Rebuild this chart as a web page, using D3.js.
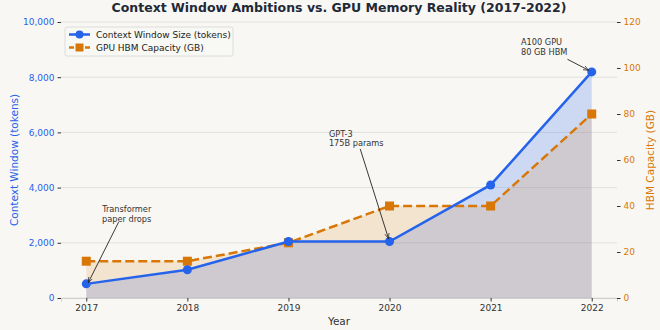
<!DOCTYPE html>
<html lang="en">
  <head>
    <meta charset="UTF-8" />
    <title>Context Window vs GPU Memory</title>
    <script src="https://cdn.jsdelivr.net/npm/d3@7"></script>
    <style>
      body {
        margin: 0;
        padding: 0;
        background: #f8f7f4;
        font-family: "DejaVu Sans", sans-serif;
      }
      .tick text {
        font-family: "DejaVu Sans", sans-serif;
      }
    </style>
  </head>
  <body>
    <svg id="chart"></svg>

    <script>
      // datos
      const years = [2017, 2018, 2019, 2020, 2021, 2022];
      const contextTokens = [512, 1024, 2048, 2048, 4096, 8192];
      const gpuMemoryGB = [16, 16, 24, 40, 40, 80];
      const leftTicks = [0, 2000, 4000, 6000, 8000, 10000];
      const rightTicks = [0, 20, 40, 60, 80, 100, 120];
      const notes = [
        { lines: ["Transformer", "paper drops"], tx: 2017.4, ty: 3100, anchor: "middle" },
        { lines: ["GPT-3", "175B params"], tx: 2019.4, ty: 5850, anchor: "start" },
        { lines: ["A100 GPU", "80 GB HBM"], tx: 2021.3, ty: 9150, anchor: "start" },
      ];

      const blue = "#2563eb";
      const orange = "#d97706";

      const width = 660;
      const height = 330;
      const m = { top: 22, right: 43, bottom: 32, left: 61 };

      const svg = d3.select("#chart").attr("width", width).attr("height", height);

      const x = d3
        .scaleLinear()
        .domain([2016.75, 2022.25])
        .range([m.left, width - m.right]);
      const yL = d3.scaleLinear().domain([0, 10000]).range([height - m.bottom, m.top]);
      const yR = d3.scaleLinear().domain([0, 120]).range([height - m.bottom, m.top]);

      // grid
      svg
        .append("g")
        .selectAll("line")
        .data(leftTicks)
        .enter()
        .append("line")
        .attr("x1", m.left)
        .attr("x2", width - m.right)
        .attr("y1", (d) => yL(d))
        .attr("y2", (d) => yL(d))
        .attr("stroke", "#dcdcdc")
        .attr("stroke-width", 0.8);

      // areas
      const blueArea = d3
        .area()
        .x((d, i) => x(years[i]))
        .y0(yL(0))
        .y1((d) => yL(d));
      const orangeArea = d3
        .area()
        .x((d, i) => x(years[i]))
        .y0(yR(0))
        .y1((d) => yR(d));

      svg.append("path").datum(contextTokens).attr("d", blueArea).attr("fill", blue).attr("fill-opacity", 0.2);
      svg.append("path").datum(gpuMemoryGB).attr("d", orangeArea).attr("fill", orange).attr("fill-opacity", 0.15);

      // lines
      const lineL = d3.line().x((d, i) => x(years[i])).y((d) => yL(d));
      const lineR = d3.line().x((d, i) => x(years[i])).y((d) => yR(d));

      svg
        .append("path")
        .datum(gpuMemoryGB)
        .attr("d", lineR)
        .attr("fill", "none")
        .attr("stroke", orange)
        .attr("stroke-width", 2.5)
        .attr("stroke-dasharray", "9,4");
      svg
        .selectAll(".sq")
        .data(gpuMemoryGB)
        .enter()
        .append("rect")
        .attr("class", "sq")
        .attr("x", (d, i) => x(years[i]) - 4.5)
        .attr("y", (d) => yR(d) - 4.5)
        .attr("width", 9)
        .attr("height", 9)
        .attr("fill", orange);

      svg
        .append("path")
        .datum(contextTokens)
        .attr("d", lineL)
        .attr("fill", "none")
        .attr("stroke", blue)
        .attr("stroke-width", 2.5);
      svg
        .selectAll(".dot")
        .data(contextTokens)
        .enter()
        .append("circle")
        .attr("class", "dot")
        .attr("cx", (d, i) => x(years[i]))
        .attr("cy", (d) => yL(d))
        .attr("r", 4.5)
        .attr("fill", blue);

      // ejes
      const axB = svg
        .append("g")
        .attr("transform", `translate(0,${height - m.bottom})`)
        .call(d3.axisBottom(x).tickValues(years).tickFormat(d3.format("d")).tickSize(3.5).tickPadding(3));
      axB.select(".domain").attr("stroke", "#d0d0d0");
      axB.selectAll(".tick line").attr("stroke", "#333");
      axB.selectAll("text").attr("font-size", 9).attr("fill", "#333");

      const axL = svg
        .append("g")
        .attr("transform", `translate(${m.left},0)`)
        .call(d3.axisLeft(yL).tickValues(leftTicks).tickFormat(d3.format(",")).tickSize(3.5).tickPadding(3));
      axL.select(".domain").remove();
      axL.selectAll(".tick line").attr("stroke", "#333");
      axL.selectAll("text").attr("font-size", 9).attr("fill", blue);

      const axR = svg
        .append("g")
        .attr("transform", `translate(${width - m.right},0)`)
        .call(d3.axisRight(yR).tickValues(rightTicks).tickSize(3.5).tickPadding(3));
      axR.select(".domain").remove();
      axR.selectAll(".tick line").attr("stroke", "#333");
      axR.selectAll("text").attr("font-size", 9).attr("fill", orange);

      // titulos
      svg
        .append("text")
        .attr("x", (m.left + width - m.right) / 2)
        .attr("y", 11.5)
        .attr("text-anchor", "middle")
        .attr("font-size", 12.5)
        .attr("font-weight", "bold")
        .attr("fill", "#1f2937")
        .text("Context Window Ambitions vs. GPU Memory Reality (2017-2022)");

      svg
        .append("text")
        .attr("x", (m.left + width - m.right) / 2)
        .attr("y", 325)
        .attr("text-anchor", "middle")
        .attr("font-size", 10.5)
        .attr("fill", "#333")
        .text("Year");

      svg
        .append("text")
        .attr("transform", `translate(18,${(m.top + height - m.bottom) / 2}) rotate(-90)`)
        .attr("text-anchor", "middle")
        .attr("font-size", 10.5)
        .attr("fill", blue)
        .text("Context Window (tokens)");

      svg
        .append("text")
        .attr("transform", `translate(654,${(m.top + height - m.bottom) / 2}) rotate(-90)`)
        .attr("text-anchor", "middle")
        .attr("font-size", 10.5)
        .attr("fill", orange)
        .text("HBM Capacity (GB)");

      // anotaciones
      svg
        .append("defs")
        .append("marker")
        .attr("id", "arrow")
        .attr("viewBox", "0 0 10 10")
        .attr("refX", 10)
        .attr("refY", 5)
        .attr("markerWidth", 6)
        .attr("markerHeight", 6)
        .attr("orient", "auto")
        .append("path")
        .attr("d", "M0,1 L10,5 L0,9")
        .attr("fill", "none")
        .attr("stroke", "#222")
        .attr("stroke-width", 1.3);

      notes.forEach((n) => {
        const t = svg
          .append("text")
          .attr("x", x(n.tx))
          .attr("y", yL(n.ty))
          .attr("text-anchor", n.anchor)
          .attr("font-size", 8.2)
          .attr("fill", "#333");
        n.lines.forEach((l, i) => {
          t.append("tspan").attr("x", x(n.tx)).attr("dy", i == 0 ? 0 : 9.8).text(l);
        });
      });

      const arrows = [
        { from: [2017.32, 2750], to: [2017.02, 560] },
        { from: [2019.71, 5400], to: [2019.99, 2150] },
        { from: [2021.76, 8650], to: [2021.97, 8250] },
      ];
      svg
        .selectAll(".arr")
        .data(arrows)
        .enter()
        .append("line")
        .attr("class", "arr")
        .attr("x1", (d) => x(d.from[0]))
        .attr("y1", (d) => yL(d.from[1]))
        .attr("x2", (d) => x(d.to[0]))
        .attr("y2", (d) => yL(d.to[1]))
        .attr("stroke", "#222")
        .attr("stroke-width", 0.9)
        .attr("marker-end", "url(#arrow)");

      // leyenda
      const lg = svg.append("g").attr("transform", "translate(65,27)");
      lg.append("rect")
        .attr("width", 168)
        .attr("height", 29)
        .attr("rx", 2)
        .attr("fill", "#f8f7f4")
        .attr("fill-opacity", 0.8)
        .attr("stroke", "#d6d6d6")
        .attr("stroke-width", 0.8);
      const items = [
        { label: "Context Window Size (tokens)", color: blue, dash: null, shape: "circle" },
        { label: "GPU HBM Capacity (GB)", color: orange, dash: "5,3", shape: "square" },
      ];
      items.forEach((it, i) => {
        const yy = 7.5 + i * 13;
        lg.append("line")
          .attr("x1", 4)
          .attr("x2", 25)
          .attr("y1", yy)
          .attr("y2", yy)
          .attr("stroke", it.color)
          .attr("stroke-width", 2.5)
          .attr("stroke-dasharray", it.dash);
        if (it.shape == "circle") {
          lg.append("circle").attr("cx", 14.5).attr("cy", yy).attr("r", 4).attr("fill", it.color);
        } else {
          lg.append("rect").attr("x", 10.5).attr("y", yy - 4).attr("width", 8).attr("height", 8).attr("fill", it.color);
        }
        lg.append("text")
          .attr("x", 31)
          .attr("y", yy + 3.3)
          .attr("font-size", 9)
          .attr("fill", "#222")
          .text(it.label);
      });
    </script>
  </body>
</html>
